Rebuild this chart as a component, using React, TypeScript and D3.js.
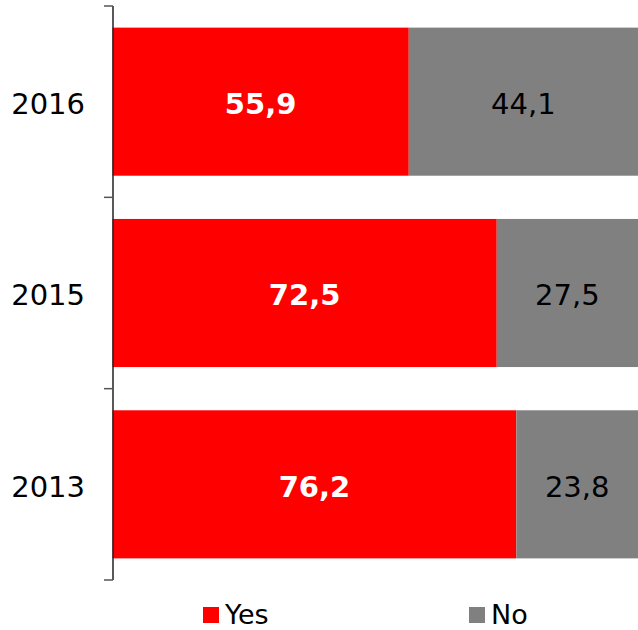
import React from "react";
import * as d3 from "d3";

const years = ["2016", "2015", "2013"];
const yesValues = [55.9, 72.5, 76.2];
const noValues = [44.1, 27.5, 23.8];
const seriesNames = ["Yes", "No"];
const seriesColors = ["#FF0000", "#808080"];

const W = 638;
const H = 630;
const FONT = "'DejaVu Sans', Verdana, sans-serif";

export default function App() {
  const x = d3.scaleLinear().domain([0, 100]).range([112.5, 642.5]);
  const y = d3
    .scaleBand<string>()
    .domain(years)
    .range([6, 580])
    .paddingInner(0.226)
    .paddingOuter(0.113);
  const step = y.step();
  const fmt = (v: number) => v.toFixed(1).replace(".", ",");
  const boundaries = d3.range(years.length + 1).map((i) => 6 + i * step);
  const visRight = W;

  return (
    <svg
      width={W}
      height={H}
      style={{ position: "absolute", left: 0, top: 0, background: "#fff" }}
    >
      {years.map((yr, i) => {
        const y0 = y(yr)!;
        const bw = y.bandwidth();
        const yes = yesValues[i];
        const no = noValues[i];
        return (
          <g key={yr}>
            <rect x={x(0)} y={y0} width={x(yes) - x(0)} height={bw} fill={seriesColors[0]} />
            <rect x={x(yes)} y={y0} width={x(yes + no) - x(yes)} height={bw} fill={seriesColors[1]} />
            <text
              x={(x(0) + x(yes)) / 2}
              y={y0 + bw / 2 + 2}
              dy="0.36em"
              textAnchor="middle"
              fontFamily={FONT}
              fontWeight="bold"
              fontSize={29}
              fill="#fff"
            >
              {fmt(yes)}
            </text>
            <text
              x={(x(yes) + Math.min(x(yes + no), visRight)) / 2}
              y={y0 + bw / 2 + 2}
              dy="0.36em"
              textAnchor="middle"
              fontFamily={FONT}
              fontSize={29}
              fill="#000"
            >
              {fmt(no)}
            </text>
            <text
              x={85}
              y={y0 + bw / 2 + 2}
              dy="0.36em"
              textAnchor="end"
              fontFamily={FONT}
              fontSize={29}
              fill="#000"
            >
              {yr}
            </text>
          </g>
        );
      })}
      <line x1={113} x2={113} y1={6} y2={580} stroke="#222" strokeWidth={1.5} />
      {boundaries.map((b, i) => (
        <line key={i} x1={104} x2={113} y1={b} y2={b} stroke="#555" strokeWidth={1.5} />
      ))}
      {seriesNames.map((name, i) => {
        const lx = i === 0 ? 203 : 469;
        return (
          <g key={name}>
            <rect x={lx} y={607} width={16} height={16} fill={seriesColors[i]} />
            <text x={lx + 22} y={624} fontFamily={FONT} fontSize={27} fill="#000">
              {name}
            </text>
          </g>
        );
      })}
    </svg>
  );
}
